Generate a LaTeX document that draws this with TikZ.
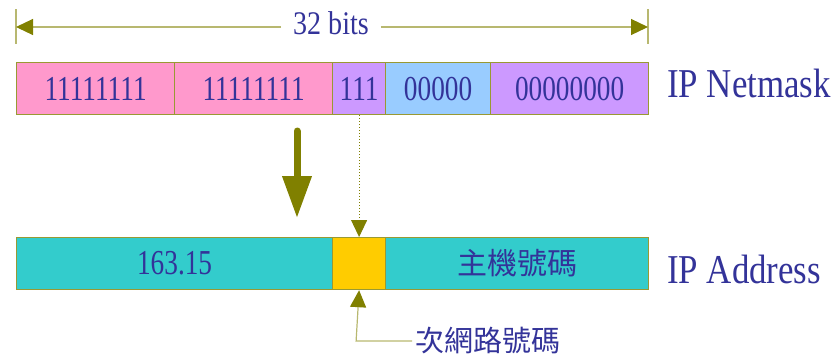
\documentclass[tikz,border=0pt]{standalone}
\usepackage{fontspec}
\setmainfont{Liberation Serif}[FakeStretch=0.85]
\newfontfamily\digitfont{Liberation Serif}[FakeStretch=0.78]
\newfontfamily\cjk{Noto Sans CJK TC}
\usetikzlibrary{arrows.meta}
\definecolor{olv}{HTML}{808000}
\definecolor{olvline}{HTML}{B8B870}
\definecolor{olvbox}{HTML}{999933}
\definecolor{txtc}{HTML}{333399}
\definecolor{cpink}{HTML}{FF99CC}
\definecolor{cpurple}{HTML}{CC99FF}
\definecolor{cblue}{HTML}{99CCFF}
\definecolor{cteal}{HTML}{33CCCC}
\definecolor{cyellow}{HTML}{FFCC00}
\begin{document}
\begin{tikzpicture}[x=1pt,y=-1pt,
  seg/.style={draw=olvbox, line width=1.2pt, minimum height=52pt, inner sep=0pt,
    anchor=north west, text=txtc, font=\digitfont\fontsize{35}{40}\selectfont},
  lbl/.style={text=txtc, inner sep=0pt},
  tipS/.style={-{Triangle[length=17pt,width=16pt,color=olv]}},
  dimline/.style={draw=olvline, line width=1.2pt},
]
\useasboundingbox (0,0) rectangle (836,357);
% netmask bar
\node[seg, fill=cpink, minimum width=158pt] (m1) at (16,62) {11111111};
\node[seg, fill=cpink, minimum width=158pt] (m2) at (174,62) {11111111};
\node[seg, fill=cpurple, minimum width=53pt] (m3) at (332,62) {111};
\node[seg, fill=cblue, minimum width=105pt] (m4) at (385,62) {00000};
\node[seg, fill=cpurple, minimum width=158pt] (m5) at (490,62) {00000000};
\node[lbl, anchor=base west, font=\fontsize{41}{48}\selectfont] (nm) at (667,97) {IP Netmask};
% address bar
\node[seg, fill=cteal, minimum width=316pt] (a1) at (16,237) {163.15};
\node[seg, fill=cyellow, minimum width=53pt] (a2) at (332,237) {};
\node[seg, fill=cteal, minimum width=263pt, font=\cjk\fontsize{30}{36}\selectfont] (a3) at (385,237) {主機號碼};
\node[lbl, anchor=base west, font=\fontsize{41}{48}\selectfont] (ad) at (667,283) {IP Address};
% dimension
\coordinate (lt1) at (16,9); \coordinate (lt2) at (16,44);
\coordinate (rt1) at (648,9); \coordinate (rt2) at (648,44);
\draw[dimline] (lt1) -- (lt2);
\draw[dimline] (rt1) -- (rt2);
\node[lbl, anchor=base, inner xsep=12pt, font=\fontsize{33}{40}\selectfont] (bits) at (331,34) {32 bits};
\coordinate (la) at (16,27); \coordinate (ra) at (648,27);
\draw[dimline, tipS] (bits.west |- la) -- (la);
\draw[dimline, tipS] (bits.east |- ra) -- (ra);
% big arrow
\coordinate (bs) at (297,131);
\coordinate (be) at (297,218);
\draw[olv, line width=7pt, line cap=round, -{Triangle[length=42pt,width=28pt]}] (bs) -- (be);
% dotted
\draw[olv, line width=1pt, dotted, tipS] (m3.south) -- (a2.north);
% subnet label
\node[lbl, anchor=west, font=\cjk\fontsize{29}{34}\selectfont] (sub) at (415,341) {次網路號碼};
\draw[dimline, tipS] ([xshift=-3pt]sub.west) -- ([xshift=-3pt]sub.west -| a2.south) -- (a2.south);
\end{tikzpicture}
\end{document}
